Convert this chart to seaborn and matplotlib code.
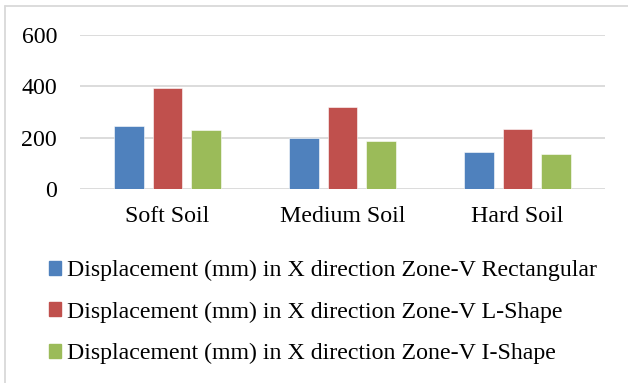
import pandas as pd
import matplotlib
matplotlib.use("Agg")
import matplotlib.pyplot as plt
import seaborn as sns
from matplotlib.patches import Rectangle
from matplotlib.lines import Line2D

# Chart data
soils = ["Soft Soil", "Medium Soil", "Hard Soil"]
series = [
    "Displacement (mm) in X direction Zone-V Rectangular",
    "Displacement (mm) in X direction Zone-V L-Shape",
    "Displacement (mm) in X direction Zone-V I-Shape",
]
rectangular = [245, 199, 146]
l_shape = [393, 319, 233]
i_shape = [230, 187, 138]
colors = ["#4F81BD", "#C0504D", "#9BBB59"]

rows = []
for name, vals in zip(series, [rectangular, l_shape, i_shape]):
    for soil, v in zip(soils, vals):
        rows.append({"Soil": soil, "Series": name, "Value": v})
df = pd.DataFrame(rows)

sns.set_style("white")
plt.rcParams["font.family"] = ["Liberation Serif", "DejaVu Serif"]
plt.rcParams["text.color"] = "black"

fig = plt.figure(figsize=(6.28, 3.83), dpi=100)
ax = fig.add_axes([80 / 628, 1 - 189 / 383, 525 / 628, 154 / 383])

sns.barplot(data=df, x="Soil", y="Value", hue="Series", palette=colors,
            saturation=1, width=0.663, gap=0.226, ax=ax, legend=False,
            errorbar=None, edgecolor="white", linewidth=0.4)

ax.set_ylim(0, 600)
ax.set_yticks([0, 200, 400, 600])
ax.yaxis.grid(True, color="#D9D9D9", linewidth=1.3)
ax.set_axisbelow(True)
for s in ax.spines.values():
    s.set_visible(False)
ax.tick_params(axis="y", length=0, pad=16.5, labelsize=17.2, labelcolor="black")
ax.tick_params(axis="x", length=0, pad=12, labelsize=17.2, labelcolor="black")
ax.set_xlabel("")
ax.set_ylabel("")

handles = [Rectangle((0, 0), 1, 1, color=c) for c in colors]
fig.legend(handles, series, loc="upper left", bbox_to_anchor=(49 / 628, 1 - 260 / 383),
           frameon=False, fontsize=17.2, handlelength=0.52, handleheight=0.52,
           handletextpad=0.25, labelspacing=0.85, borderaxespad=0, borderpad=0,
           labelcolor="black")

# chart border, only top and left edges show
x0, y0 = 5 / 628, 1 - 6 / 383
fig.lines.append(Line2D([x0, 1], [y0, y0], transform=fig.transFigure,
                        color="#D9D9D9", linewidth=1.3))
fig.lines.append(Line2D([x0, x0], [0, y0], transform=fig.transFigure,
                        color="#D9D9D9", linewidth=1.3))

fig.savefig("out.png", dpi=100)
